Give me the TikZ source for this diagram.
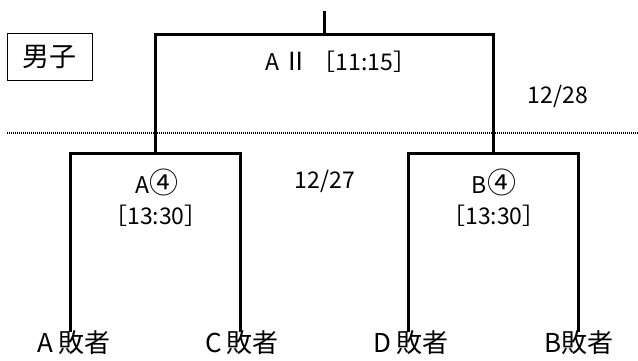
\documentclass[tikz,border=0pt]{standalone}
\usepackage{fontspec}
\setmainfont{Noto Sans CJK JP}
\newcommand{\circfour}{{\fontsize{29}{29}\selectfont ④}}
\begin{document}
\begin{tikzpicture}[x=1pt,y=-1pt,
  bline/.style={line width=3pt,line cap=rect},
  lbl/.style={inner sep=0pt,font=\fontsize{23}{25}\selectfont},
  team/.style={inner sep=0pt,font=\fontsize{26}{28}\selectfont}]
\useasboundingbox (0,0) rectangle (638,360);
% dotted line
\coordinate (dl) at (7,133);
\coordinate (dr) at (638,133);
\draw[line width=1.5pt,dash pattern=on 1pt off 1pt] (dl) -- (dr);
% box
\node[draw,line width=0.9pt,minimum width=85pt,minimum height=47pt,inner sep=0pt,
  font=\fontsize{27}{29}\selectfont] (sex) at (49.5,56.5) {男子};
% coordinates
\coordinate (top) at (324,12);
\coordinate (fm) at (324,34);
\coordinate (fl) at (155,34);
\coordinate (fr) at (493,34);
\coordinate (sl) at (155,153);
\coordinate (sr) at (493,153);
\coordinate (l1) at (70,153);
\coordinate (l2) at (240,153);
\coordinate (r1) at (408,153);
\coordinate (r2) at (578,153);
% team labels
\node[team] (ta) at (74,343) {A\,敗者};
\node[team] (tc) at (242,343) {C\,敗者};
\node[team] (td) at (411,343) {D\,敗者};
\node[team] (tb) at (579,343) {B敗者};
% brackets
\draw[bline] (top) -- (fm);
\draw[bline] (sl) -- (fl) -- (fr) -- (sr);
\draw[bline] (ta.north -| l1) -- (l1) -- (l2) -- (tc.north -| l2);
\draw[bline] (td.north -| r1) -- (r1) -- (r2) -- (tb.north -| r2);
% match labels
\node[lbl] (fin) at (341,62) {A\,{\fontsize{25}{25}\selectfont Ⅱ}\,［11:15］};
\node[lbl] (d28) at (558,96) {12/28};
\node[lbl] (d27) at (325,181) {12/27};
\node[lbl] (ma) at (157,182) {A\circfour};
\node[lbl] (mat) at (156,216) {［13:30］};
\node[lbl] (mb) at (494,182) {B\circfour};
\node[lbl] (mbt) at (494,216) {［13:30］};
\end{tikzpicture}
\end{document}
